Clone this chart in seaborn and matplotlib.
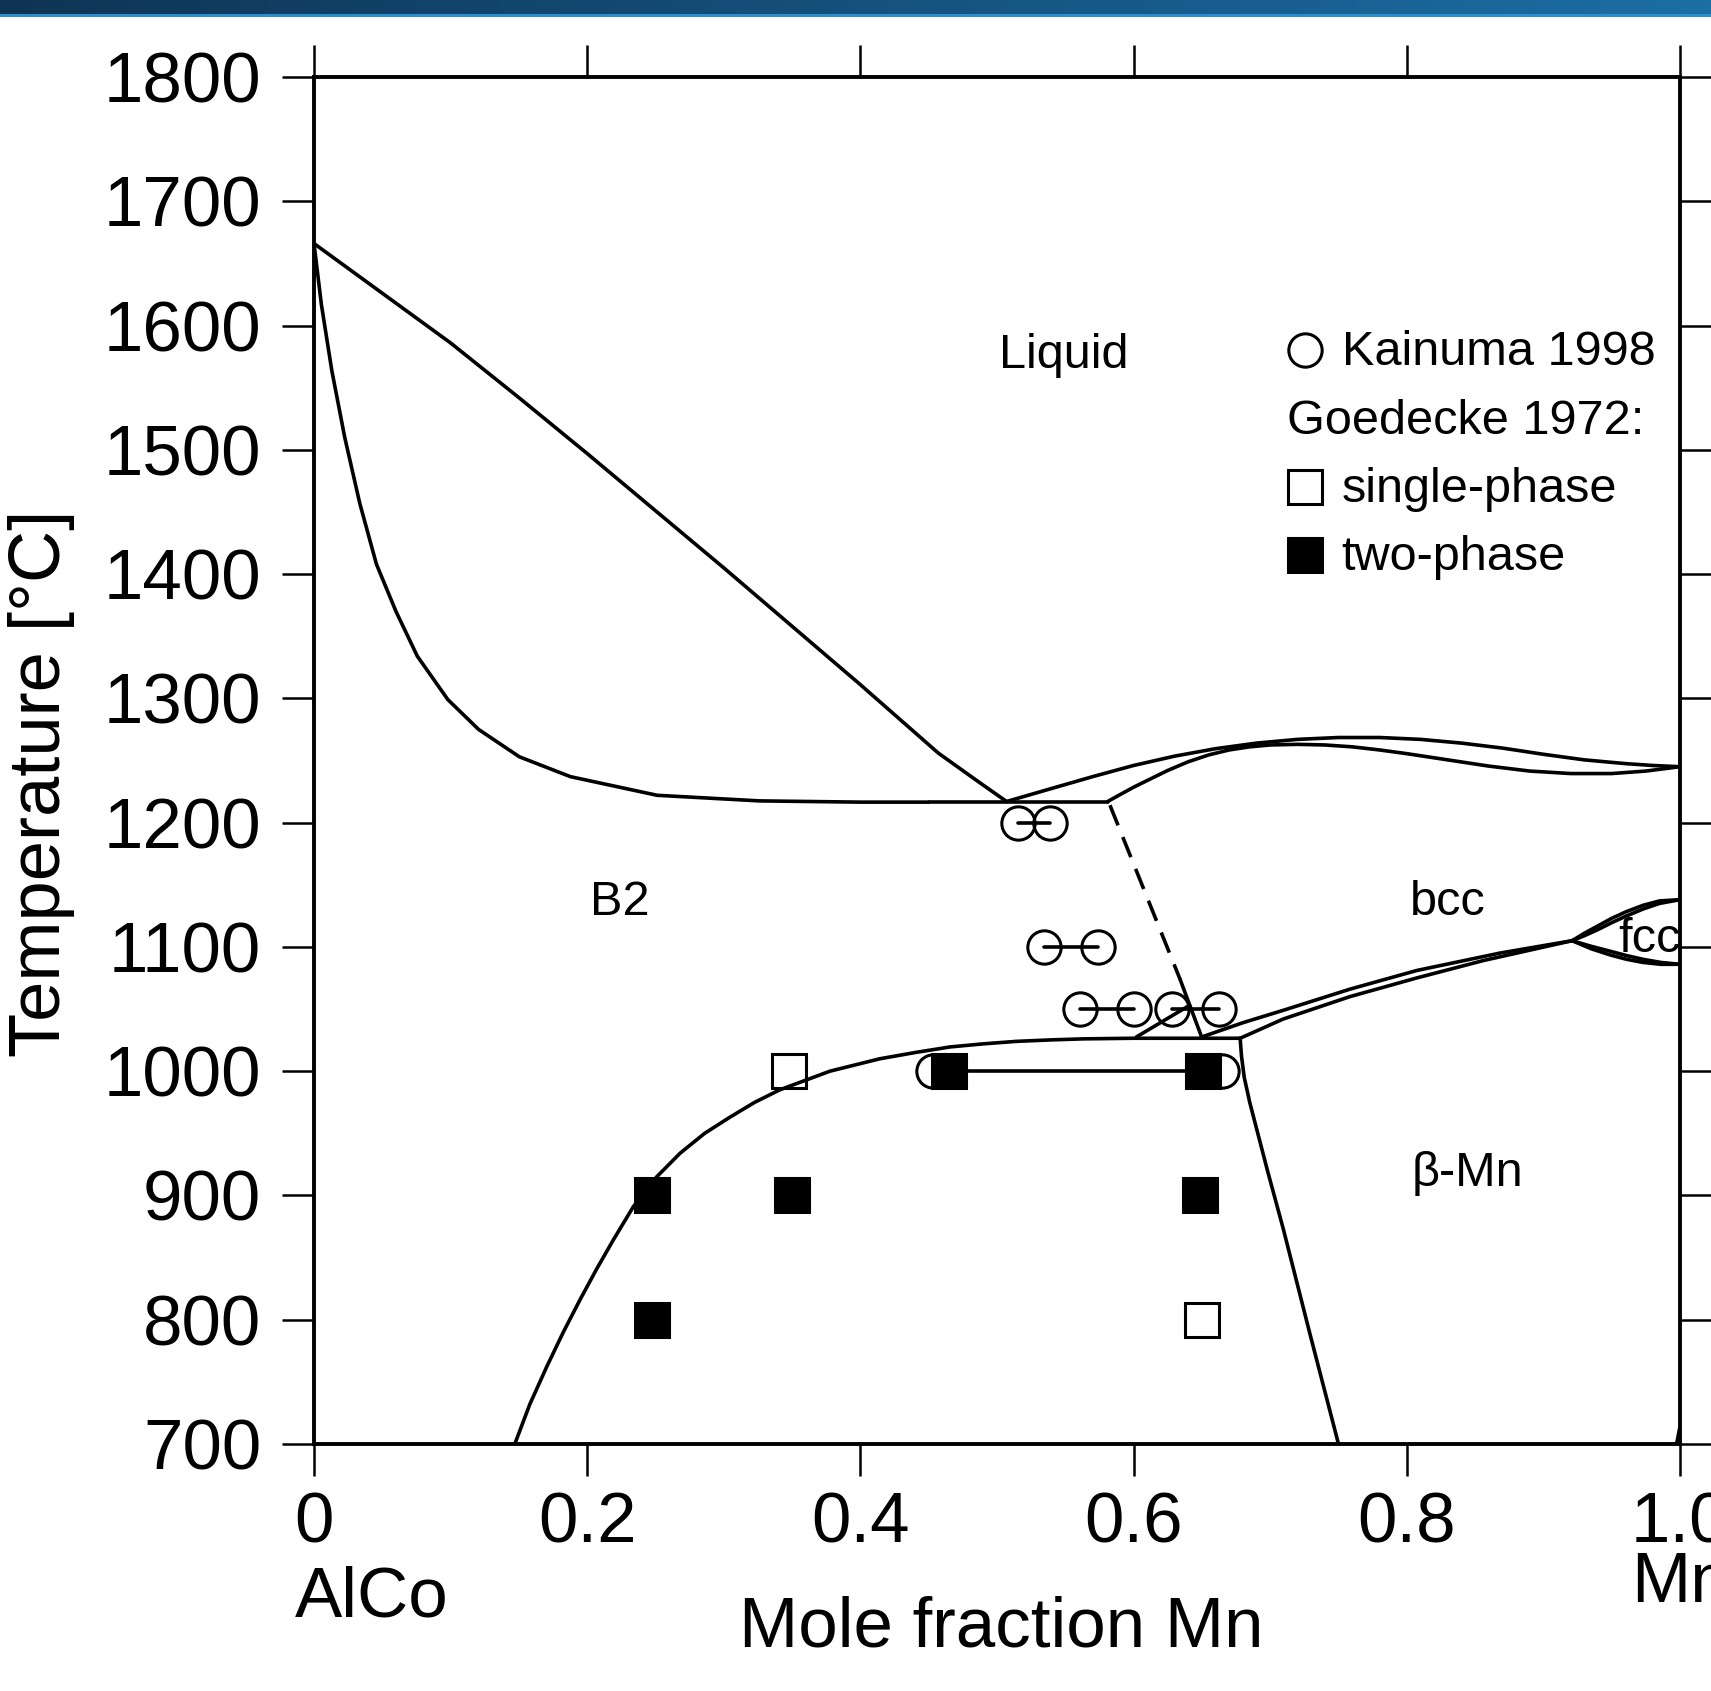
import numpy as np
import matplotlib
matplotlib.use("Agg")
import matplotlib.pyplot as plt
import seaborn as sns
from matplotlib.patches import Rectangle

# ---- phase boundaries (mole fraction Mn, T in degC) ----
liq_b2_x = [0.0, 0.05, 0.1, 0.15, 0.2, 0.25, 0.3, 0.35, 0.4, 0.457, 0.485, 0.507]
liq_b2_T = [1666, 1626, 1586, 1542, 1497, 1451, 1405, 1358, 1311, 1256, 1234, 1217]

sol_b2_x = [0.0, 0.0054, 0.013, 0.0225, 0.0335, 0.0457, 0.060, 0.0756, 0.098, 0.1205,
            0.1503, 0.1877, 0.2512, 0.326, 0.40, 0.45]
sol_b2_T = [1666, 1617, 1564, 1510, 1457, 1408, 1370, 1334, 1299, 1275,
            1253, 1237, 1222, 1217.5, 1216.5, 1216.5]

eut_x = [0.45, 0.581]
eut_T = [1216.5, 1216.5]

liq_bcc_x = [0.507, 0.54, 0.57, 0.60, 0.63, 0.66, 0.69, 0.72, 0.75, 0.78, 0.81, 0.84,
             0.87, 0.90, 0.93, 0.96, 0.98, 1.0]
liq_bcc_T = [1217, 1227.5, 1237, 1246, 1253.5, 1259.5, 1264, 1267, 1268.5, 1268.5, 1267, 1264,
             1260, 1255, 1250.5, 1247.5, 1246, 1245]

sol_bcc_x = [0.581, 0.590, 0.600, 0.612, 0.625, 0.640, 0.655, 0.670, 0.685, 0.70, 0.72,
             0.74, 0.76, 0.78, 0.80, 0.83, 0.86, 0.89, 0.92, 0.95, 0.975, 1.0]
sol_bcc_T = [1217, 1222.5, 1228.5, 1235, 1242, 1249, 1254.5, 1258.5, 1261, 1262.5, 1263,
             1262.5, 1261, 1258.5, 1255.5, 1250.5, 1245.5, 1241.5, 1239.5, 1239.5, 1241.5, 1245]

order_dash_x = [0.5827, 0.634]
order_dash_T = [1214, 1074]
order_solid_x = [0.634, 0.6498]
order_solid_T = [1074, 1027.5]

short_x = [0.602, 0.641]
short_T = [1027.5, 1053]

b2_beta_x = [0.147, 0.158, 0.1703, 0.1825, 0.1947, 0.207, 0.219, 0.2338, 0.2509, 0.268,
             0.286, 0.3045, 0.3227, 0.341, 0.3777, 0.4143, 0.44, 0.4656, 0.49, 0.5144,
             0.54, 0.563, 0.60, 0.678]
b2_beta_T = [700, 732, 762, 790, 816, 841, 864, 891, 915, 934,
             950, 963, 975, 985, 1000, 1010, 1015, 1019.5, 1022, 1024,
             1025.2, 1026, 1026.5, 1026.5]

beta_bcc_x = [0.678, 0.679, 0.681, 0.685, 0.698, 0.7096, 0.729, 0.75]
beta_bcc_T = [1026.5, 1012, 995, 975, 920, 873, 789, 700]

band_up_x = [0.6498, 0.68, 0.7096, 0.7584, 0.8072, 0.868, 0.921]
band_up_T = [1027.5, 1039, 1049, 1066, 1081, 1095, 1105]
band_lo_x = [0.678, 0.7096, 0.7584, 0.8072, 0.856, 0.921]
band_lo_T = [1026.5, 1042, 1060, 1075, 1089, 1105]

fcc_up1_x = [0.921, 0.93, 0.94, 0.95, 0.961, 0.973, 0.985, 1.0]
fcc_up1_T = [1105, 1111, 1117, 1123, 1128.5, 1133.5, 1137, 1138]
fcc_up2_x = [0.921, 0.93, 0.94, 0.95, 0.961, 0.973, 0.985, 1.0]
fcc_up2_T = [1105, 1109, 1114, 1119.5, 1125, 1130.5, 1135, 1138]
fcc_lo1_x = [0.921, 0.935, 0.949, 0.961, 0.973, 0.986, 1.0]
fcc_lo1_T = [1105, 1098.5, 1093.5, 1090, 1087.5, 1086, 1086]
fcc_lo2_x = [0.921, 0.935, 0.949, 0.961, 0.973, 0.986, 1.0]
fcc_lo2_T = [1105, 1100.5, 1096.5, 1093, 1090, 1087.5, 1086]

amn_x = [0.9975, 1.0]
amn_T = [700, 714]

# ---- experimental points ----
kain_x = [0.5156, 0.5388, 0.5346, 0.5737, 0.5608, 0.6005, 0.6279, 0.6628, 0.453, 0.665]
kain_T = [1200, 1200, 1100, 1100, 1050, 1050, 1050, 1050, 1000, 1000]
kain_tie_pairs = [(0, 1), (2, 3), (4, 5), (6, 7)]

goed_open_x = [0.348, 0.6498]
goed_open_T = [1000, 800]
goed_two_x = [0.2472, 0.2472, 0.350, 0.4648, 0.6506, 0.6486]
goed_two_T = [900, 800, 900, 1000, 1000, 900]
goed_tie_x = [0.4648, 0.6506]
goed_tie_T = [1000, 1000]

x_ticks = [0, 0.2, 0.4, 0.6, 0.8, 1.0]
x_labels = ["0", "0.2", "0.4", "0.6", "0.8", "1.0"]
y_ticks = list(range(700, 1801, 100))

sns.set_theme(style="ticks")
plt.rcParams['font.family'] = ['Liberation Sans', 'DejaVu Sans']
plt.rcParams['text.color'] = 'black'
plt.rcParams['axes.labelcolor'] = 'black'

W, H = 1711, 1691
fig = plt.figure(figsize=(W / 100, H / 100), dpi=100, facecolor='white')
ax = fig.add_axes([314 / W, 1 - 1444 / H, 1366 / W, 1367 / H])
ax.set_facecolor('white')

LW = 2.6


def curve(x, y, **kw):
    sns.lineplot(x=x, y=y, ax=ax, sort=False, estimator=None, color='black',
                 lw=kw.pop('lw', LW), **kw)


for cx, cy in [(liq_b2_x, liq_b2_T), (sol_b2_x, sol_b2_T), (eut_x, eut_T),
               (liq_bcc_x, liq_bcc_T), (sol_bcc_x, sol_bcc_T),
               (order_solid_x, order_solid_T), (short_x, short_T),
               (b2_beta_x, b2_beta_T), (beta_bcc_x, beta_bcc_T),
               (band_up_x, band_up_T), (band_lo_x, band_lo_T),
               (fcc_up1_x, fcc_up1_T), (fcc_up2_x, fcc_up2_T),
               (fcc_lo1_x, fcc_lo1_T), (fcc_lo2_x, fcc_lo2_T), (amn_x, amn_T)]:
    curve(cx, cy)
curve(order_dash_x, order_dash_T, linestyle=(0, (6, 3.5)))

# tie lines
for i, j in kain_tie_pairs:
    curve([kain_x[i], kain_x[j]], [kain_T[i], kain_T[j]])
curve(goed_tie_x, goed_tie_T)

# markers
MS = 24
ax.plot(kain_x, kain_T, 'o', ls='none', ms=MS, mfc='none', mec='black', mew=2.2, zorder=4)
ax.plot(goed_open_x, goed_open_T, 's', ls='none', ms=MS + 0.5, mfc='none', mec='black',
        mew=2.2, zorder=5)
ax.plot(goed_two_x, goed_two_T, 's', ls='none', ms=MS + 0.5, mfc='black', mec='black',
        mew=2.2, zorder=5)

# legend drawn as in the original
ax.plot([0.7255], [1580], 'o', ms=MS, mfc='none', mec='black', mew=2.2, clip_on=False)
ax.plot([0.7255], [1470], 's', ms=MS + 0.5, mfc='none', mec='black', mew=2.2, clip_on=False)
ax.plot([0.7255], [1415], 's', ms=MS + 0.5, mfc='black', mec='black', mew=2.2, clip_on=False)
FS = 35
ax.text(0.7523, 1568, "Kainuma 1998", fontsize=FS, va='baseline', ha='left')
ax.text(0.712, 1513, "Goedecke 1972:", fontsize=FS, va='baseline', ha='left')
ax.text(0.7523, 1458, "single-phase", fontsize=FS, va='baseline', ha='left')
ax.text(0.7523, 1403, "two-phase", fontsize=FS, va='baseline', ha='left')

# phase labels
ax.text(0.5016, 1566, "Liquid", fontsize=FS, va='baseline', ha='left')
ax.text(0.202, 1126, "B2", fontsize=FS, va='baseline', ha='left')
ax.text(0.802, 1126, "bcc", fontsize=FS, va='baseline', ha='left')
ax.text(0.8036, 908, "β-Mn", fontsize=FS, va='baseline', ha='left')
ax.text(0.9548, 1096, "fcc", fontsize=FS, va='baseline', ha='left')

ax.set_xlim(0, 1)
ax.set_ylim(700, 1800)
ax.set_xticks(x_ticks)
ax.set_xticklabels(x_labels)
ax.set_yticks(y_ticks)
ax.set_xlabel("")
ax.set_ylabel("")
ax.tick_params(axis='both', which='major', direction='out', length=23, width=1.8,
               color='black', labelcolor='black', labelsize=51,
               top=True, right=True, labeltop=False, labelright=False)
ax.tick_params(axis='y', pad=15)
ax.tick_params(axis='x', pad=11)
for sp in ax.spines.values():
    sp.set_visible(True)
    sp.set_color('black')
    sp.set_linewidth(2.8)

# axis titles and end members
fig.text(42 / W, 1 - 783 / H, "Temperature [°C]", rotation=90, fontsize=52,
         ha='center', va='center')
fig.text(1001 / W, 1 - 1646.7 / H, "Mole fraction Mn", fontsize=51, ha='center', va='baseline')
fig.text(294.6 / W, 1 - 1616.7 / H, "AlCo", fontsize=51, ha='left', va='baseline')
fig.text(1631 / W, 1 - 1601.7 / H, "Mn", fontsize=51, ha='left', va='baseline')

# header band
bar = fig.add_axes([0, 1 - 14 / H, 1, 14 / H])
grad = np.linspace(0, 1, 512)
c0 = np.array([14, 52, 84]) / 255
c1 = np.array([28, 110, 165]) / 255
img = (c0[None, :] * (1 - grad[:, None]) + c1[None, :] * grad[:, None])[None, :, :]
bar.imshow(img, aspect='auto', extent=[0, 1, 0, 1])
bar.set_axis_off()
fig.add_artist(Rectangle((0, 1 - 17 / H), 1, 3 / H, transform=fig.transFigure,
                         color=(0.16, 0.56, 0.82), lw=0))

fig.savefig("out.png", dpi=100, facecolor='white')
